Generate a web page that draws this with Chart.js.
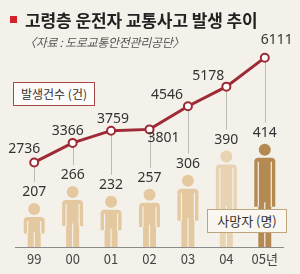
<!DOCTYPE html>
<html>
<head>
<meta charset="utf-8">
<script src="https://cdn.jsdelivr.net/npm/chart.js@4"></script>
<style>
  body { margin: 0; }
  #wrap { position: relative; width: 300px; height: 274px; background: #f4f1ea; overflow: hidden; font-family: "Noto Sans CJK KR", "Noto Sans", sans-serif; }
  #wrap canvas { position: absolute; left: 0; top: 0; }
  .title { position: absolute; left: 25px; top: 7px; font-size: 17px; font-weight: bold; color: #222; white-space: nowrap; letter-spacing: -0.1px; }
  .mark { position: absolute; left: 10px; top: 16px; width: 7px; height: 7px; background: #d2232a; }
  .source { position: absolute; left: 24px; top: 33px; font-size: 12px; color: #555; font-style: italic; white-space: nowrap; letter-spacing: -0.3px; }
  .box { position: absolute; height: 22px; line-height: 22px; text-align: center; font-size: 12px; color: #333; white-space: nowrap; }
  .box1 { left: 13px; top: 82px; width: 80px; border: 1px solid #a54a4a; background: #fdfcfa; }
  .box2 { left: 207px; top: 209px; width: 78px; border: 1px solid #bfa57c; background: #faf7f0; font-size: 13px; }
</style>
</head>
<body>
<div id="wrap">
  <canvas id="chart" width="300" height="274"></canvas>
  <div class="mark"></div>
  <div class="title">고령층 운전자 교통사고 발생 추이</div>
  <div class="source">〈자료 : 도로교통안전관리공단〉</div>
  <div class="box box1">발생건수 (건)</div>
  <div class="box box2">사망자 (명)</div>
</div>
<script>
var years = ['99', '00', '01', '02', '03', '04', '05년'];
var accidents = [2736, 3366, 3759, 3801, 4546, 5178, 6111];
var deaths = [207, 266, 232, 257, 306, 390, 414];

// label offsets for the accident numbers (dx, dy from point)
var accLabelOffset = [[-10, -13], [-5, -12], [2, -12], [14, 9], [-21, -11], [-18, -11], [12, -18]];
var figureColors = ['#e4c9a0', '#e4c9a0', '#e4c9a0', '#e4c9a0', '#e4c9a0', '#e8d3b2', '#b58a52'];
var bgColor = '#f4f1ea';
var lineRed = '#9e2a35';

function drawPerson(ctx, cx, top, base, color){
    var w = 21, headR = 6;
    var bodyTop = top + headR * 2 + 2;
    var bodyH = base - bodyTop;
    var armEnd = bodyTop + bodyH * 0.55;
    ctx.save();
    ctx.fillStyle = color;
    ctx.beginPath();
    ctx.arc(cx, top + headR, headR, 0, Math.PI * 2);
    ctx.fill();
    // torso + arms
    var r = 4;
    var l = cx - w / 2, rgt = cx + w / 2;
    ctx.beginPath();
    ctx.moveTo(l, armEnd);
    ctx.lineTo(l, bodyTop + r);
    ctx.quadraticCurveTo(l, bodyTop, l + r, bodyTop);
    ctx.lineTo(rgt - r, bodyTop);
    ctx.quadraticCurveTo(rgt, bodyTop, rgt, bodyTop + r);
    ctx.lineTo(rgt, armEnd);
    ctx.closePath();
    ctx.fill();
    // legs
    ctx.fillRect(cx - 6.5, armEnd - 1, 13, base - armEnd + 1);
    // arm and leg gaps
    ctx.strokeStyle = bgColor;
    ctx.lineWidth = 1.2;
    ctx.beginPath();
    ctx.moveTo(cx - 6.5, bodyTop + 4); ctx.lineTo(cx - 6.5, armEnd);
    ctx.moveTo(cx + 6.5, bodyTop + 4); ctx.lineTo(cx + 6.5, armEnd);
    ctx.moveTo(cx, armEnd - bodyH * 0.05); ctx.lineTo(cx, base);
    ctx.stroke();
    ctx.restore();
}

var figures = {
    id: 'figures',
    beforeDatasetsDraw(chart){
        var ctx = chart.ctx;
        var area = chart.chartArea;
        var bars = chart.getDatasetMeta(0).data;
        var pts = chart.getDatasetMeta(1).data;
        var baseY = Math.round(area.bottom);
        bars.forEach((b, i) => {
            // connector line from the point down to the death label
            ctx.save();
            ctx.strokeStyle = '#bdbab4';
            ctx.lineWidth = 1;
            ctx.beginPath();
            ctx.moveTo(Math.round(b.x) + 0.5, pts[i].y + 4);
            ctx.lineTo(Math.round(b.x) + 0.5, b.y - 21);
            ctx.stroke();
            ctx.restore();
            drawPerson(ctx, b.x, b.y, baseY, figureColors[i]);
        });
    },
    afterDraw(chart){
        // baseline under the figures
        var ctx = chart.ctx;
        var area = chart.chartArea;
        ctx.save();
        ctx.fillStyle = '#8a8a8a';
        ctx.fillRect(Math.round(area.left), Math.round(area.bottom), Math.round(area.right - area.left), 1);
        ctx.restore();
    },
    afterDatasetsDraw(chart){
        var ctx = chart.ctx;
        var bars = chart.getDatasetMeta(0).data;
        var pts = chart.getDatasetMeta(1).data;
        ctx.save();
        ctx.font = '14px "Noto Sans", sans-serif';
        ctx.fillStyle = '#333';
        ctx.textAlign = 'center';
        ctx.textBaseline = 'middle';
        bars.forEach((b, i) => {
            ctx.fillText(deaths[i], b.x, b.y - 11);
        });
        pts.forEach((p, i) => {
            ctx.fillText(accidents[i], p.x + accLabelOffset[i][0], p.y + accLabelOffset[i][1]);
        });
        ctx.restore();
    }
};

new Chart(document.getElementById('chart'), {
    data: {
        labels: years,
        datasets: [{
            type: 'bar',
            data: deaths,
            yAxisID: 'y2',
            backgroundColor: 'rgba(0,0,0,0)',
            barThickness: 21,
            order: 2
        }, {
            type: 'line',
            data: accidents,
            yAxisID: 'y',
            borderColor: lineRed,
            borderWidth: 3,
            pointRadius: 4,
            pointBorderWidth: 2,
            pointBackgroundColor: '#fff',
            pointBorderColor: lineRed,
            tension: 0,
            order: 1
        }]
    },
    options: {
        responsive: false,
        animation: false,
        layout: { padding: { top: 40, left: 15, right: 16, bottom: 3 } },
        plugins: { legend: { display: false }, tooltip: { enabled: false } },
        scales: {
            x: {
                grid: { display: false, drawTicks: false },
                border: { display: false },
                ticks: { padding: 4, color: '#444', font: { size: 13, family: '"Noto Sans CJK KR", "Noto Sans", sans-serif' } }
            },
            y: { display: false, min: 0, max: 6680 },
            y2: { display: false, min: 52, max: 776 }
        }
    },
    plugins: [figures]
});
</script>
</body>
</html>
